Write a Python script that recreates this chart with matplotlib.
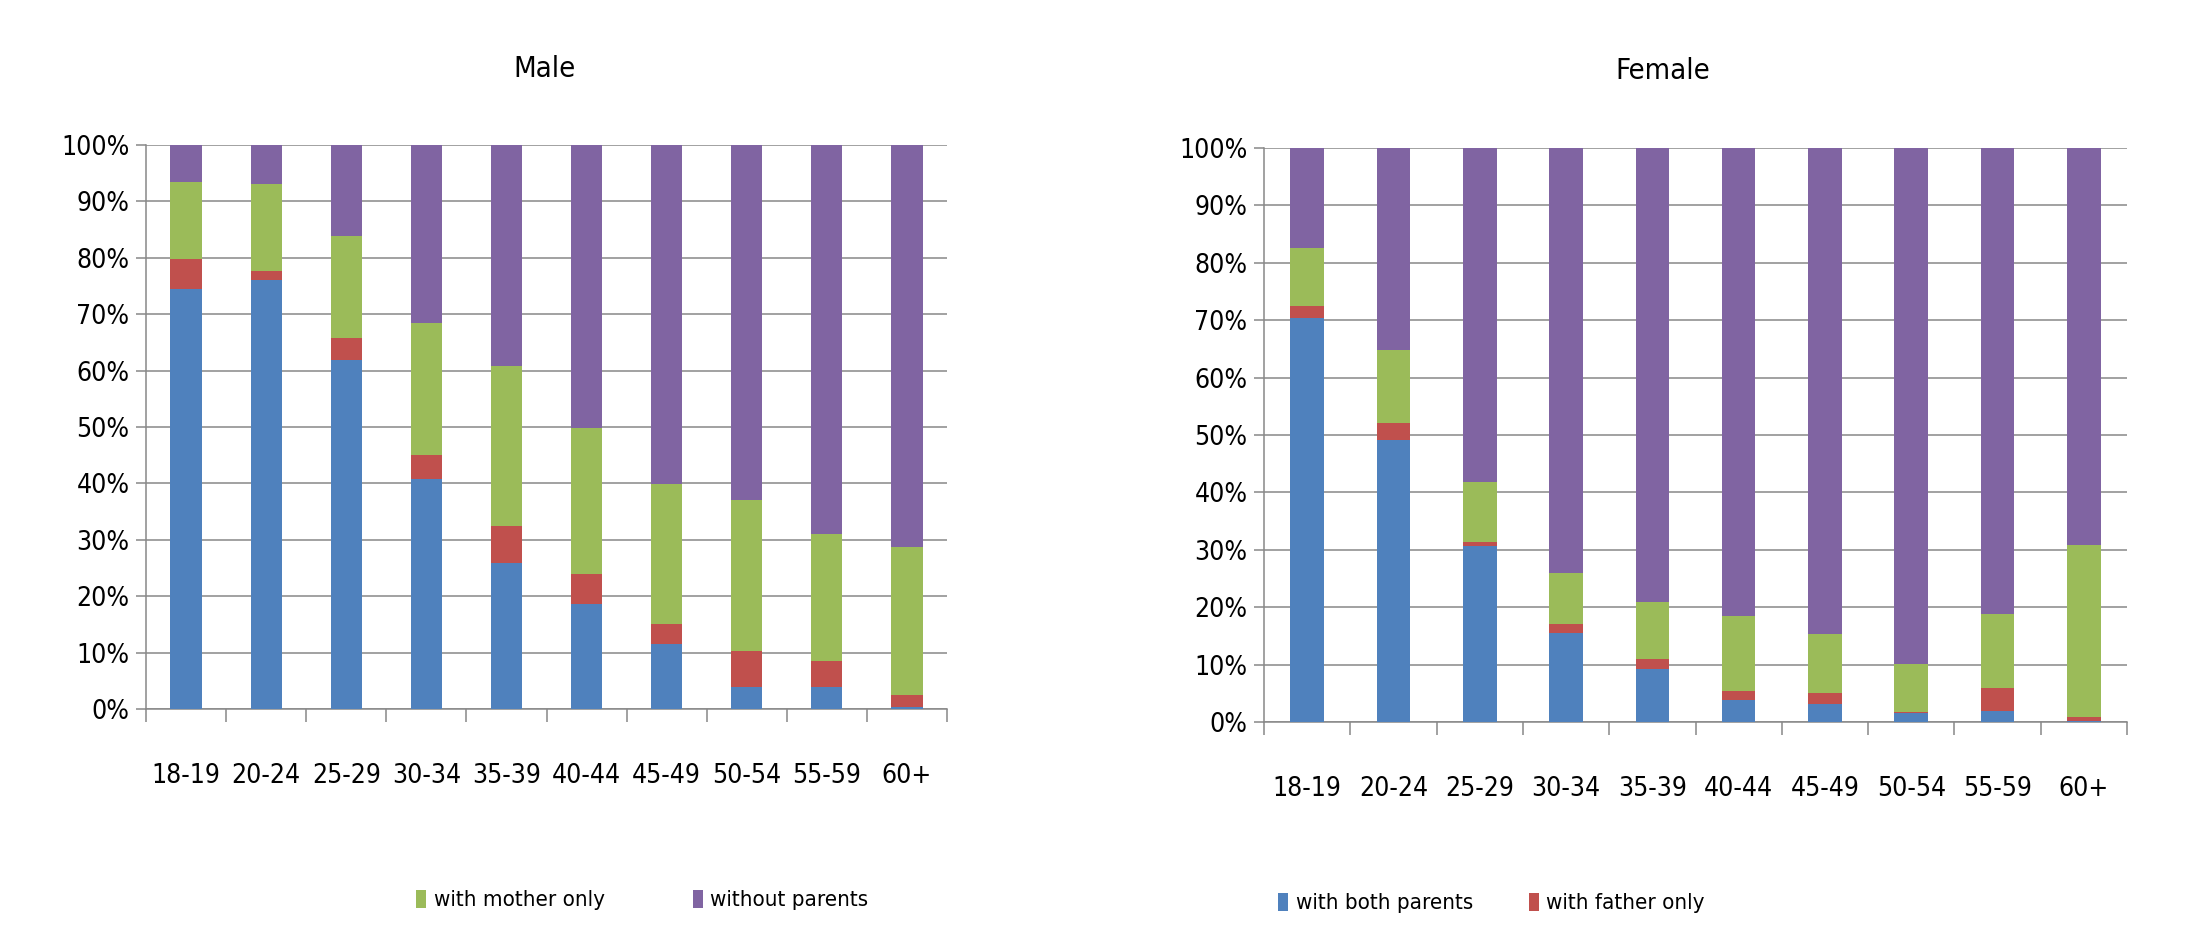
import matplotlib
matplotlib.use('Agg')
import matplotlib.pyplot as plt
import numpy as np
from matplotlib.patches import Patch

# Living arrangements by age group (share of each group, %)
age_groups = ['18-19', '20-24', '25-29', '30-34', '35-39',
              '40-44', '45-49', '50-54', '55-59', '60+']

male_both = [74.5, 76.0, 61.8, 40.7, 25.8, 18.7, 11.6, 3.9, 3.9, 0.3]
male_father = [5.3, 1.6, 3.9, 4.4, 6.6, 5.3, 3.5, 6.4, 4.6, 2.1]
male_mother = [13.7, 15.4, 18.1, 23.3, 28.5, 25.9, 24.8, 26.8, 22.5, 26.4]
male_none = [6.5, 7.0, 16.2, 31.6, 39.1, 50.1, 60.1, 62.9, 69.0, 71.2]

female_both = [70.4, 49.1, 30.6, 15.5, 9.3, 3.8, 3.2, 1.5, 2.0, 0.2]
female_father = [2.1, 3.0, 0.8, 1.5, 1.7, 1.6, 1.8, 0.2, 3.9, 0.7]
female_mother = [10.0, 12.7, 10.4, 8.9, 9.9, 13.0, 10.4, 8.4, 12.9, 30.0]
female_none = [17.5, 35.2, 58.2, 74.1, 79.1, 81.6, 84.6, 89.9, 81.2, 69.1]

series_names = ['with both parents', 'with father only',
                'with mother only', 'without parents']
colors = ['#4F81BD', '#C0504D', '#9BBB59', '#8064A2']

GRID = '#888888'
W, H = 2188, 950

plt.rcParams['font.family'] = ['DejaVu Sans']
plt.rcParams['font.stretch'] = 'condensed'

fig = plt.figure(figsize=(W / 100, H / 100), dpi=100)


def px_axes(x0, y_top, x1, y_bot):
    return fig.add_axes([x0 / W, (H - y_bot) / H, (x1 - x0) / W, (y_bot - y_top) / H])


def draw_panel(ax, parts, xpad):
    x = np.arange(len(age_groups))
    bottom = np.zeros(len(age_groups))
    for vals, col in zip(parts, colors):
        vals = np.array(vals)
        ax.bar(x, vals, 0.39, bottom=bottom, color=col, zorder=3, linewidth=0)
        bottom += vals
    ax.set_xlim(-0.5, len(age_groups) - 0.5)
    ax.set_ylim(0, 100)
    ax.set_yticks(np.arange(0, 101, 10))
    ax.set_yticklabels([f'{v}%' for v in range(0, 101, 10)])
    ax.set_xticks(x)
    ax.set_xticklabels(age_groups)
    ax.set_xticks(np.arange(-0.5, len(age_groups)), minor=True)
    ax.tick_params(axis='x', which='major', length=0, pad=xpad, labelsize=19)
    ax.tick_params(axis='x', which='minor', length=9, width=1.1, color=GRID, direction='out')
    ax.tick_params(axis='y', length=7, width=1.1, color=GRID, pad=5, labelsize=19)
    ax.grid(axis='y', color=GRID, linewidth=1.1, zorder=0)
    for s in ['top', 'right']:
        ax.spines[s].set_visible(False)
    for s in ['left', 'bottom']:
        ax.spines[s].set_color(GRID)
        ax.spines[s].set_linewidth(1.1)


ax1 = px_axes(146, 145, 947, 709)
draw_panel(ax1, [male_both, male_father, male_mother, male_none], 39)
ax2 = px_axes(1264, 148, 2127, 722)
draw_panel(ax2, [female_both, female_father, female_mother, female_none], 39)

fig.text(545 / W, 1 - 69 / H, 'Male', ha='center', va='center', fontsize=21)
fig.text(1663 / W, 1 - 71 / H, 'Female', ha='center', va='center', fontsize=21)

# legend split between the two panels
handles = [Patch(facecolor=c, edgecolor='none') for c in colors]
leg_kw = dict(frameon=False, fontsize=16, handlelength=0.45, handleheight=0.9,
              handletextpad=0.35, ncol=2, borderpad=0, borderaxespad=0,
              loc='center left')
fig.legend(handles[2:], series_names[2:], columnspacing=3.95,
           bbox_to_anchor=(416 / W, 1 - 900 / H), **leg_kw)
fig.legend(handles[:2], series_names[:2], columnspacing=2.5,
           bbox_to_anchor=(1278 / W, 1 - 903 / H), **leg_kw)

fig.savefig('out.png', dpi=100)
